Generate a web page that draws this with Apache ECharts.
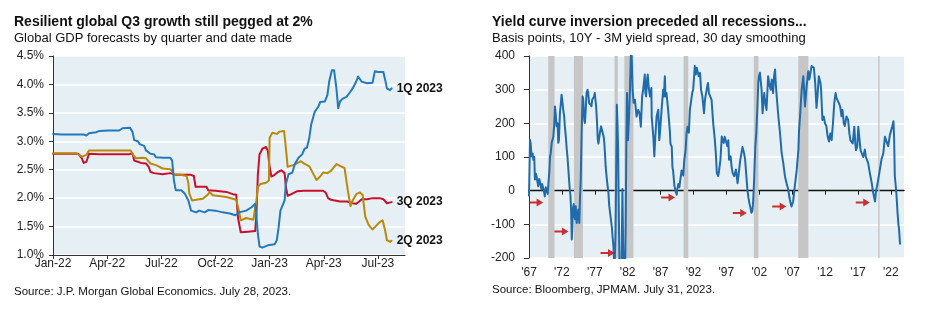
<!DOCTYPE html>
<html><head><meta charset="utf-8">
<script src="https://cdn.jsdelivr.net/npm/echarts/dist/echarts.min.js"></script>
<style>html,body{margin:0;padding:0;background:#fff}#c{width:928px;height:321px}</style>
</head><body><div id="c"></div>
<script>
// ---------- Left chart: Global GDP forecasts (x = months since Jan-22) ----------
const gdpTickLabels = ['Jan-22','Apr-22','Jul-22','Oct-22','Jan-23','Apr-23','Jul-23'];
const gdpSeriesNames = ['1Q 2023','3Q 2023','2Q 2023'];

const q1Months = [0,0.5,1.7,1.85,2.0,2.4,2.55,3.1,3.67,3.85,4.26,4.4,4.5,4.7,4.8,5.05,5.15,5.4,5.6,5.7,6.1,6.5,6.6,6.7,6.8,7.1,7.3,7.5,7.65,7.93,8.1,8.4,8.6,9.0,9.4,9.8,10.1,10.3,10.7,11.0,11.2,11.26,11.35,11.44,11.6,11.9,12.28,12.4,12.5,12.6,12.83,12.9,13.05,13.26,13.4,13.6,13.8,13.94,14.07,14.2,14.3,14.5,14.7,14.8,15.06,15.2,15.3,15.45,15.57,15.7,15.8,15.9,16.05,16.26,16.4,16.6,16.8,16.9,17.1,17.4,17.7,17.83,18.0,18.3,18.4,18.5,18.67,18.76];
const q1Values = [3.13,3.12,3.12,3.10,3.14,3.16,3.18,3.19,3.19,3.23,3.24,3.17,3.02,3.0,2.95,2.92,2.84,2.78,2.77,2.72,2.71,2.71,2.66,2.31,2.14,2.14,2.08,1.96,1.78,1.75,1.78,1.75,1.79,1.78,1.75,1.73,1.70,1.75,1.78,1.84,1.90,1.72,1.37,1.15,1.13,1.17,1.19,1.26,1.49,1.78,1.96,2.25,2.42,2.45,2.6,2.71,2.77,2.87,2.89,3.06,3.29,3.52,3.61,3.69,3.70,3.81,4.05,4.25,4.25,3.93,3.58,3.70,3.75,3.78,3.84,3.93,4.05,4.14,4.05,4.02,4.03,4.23,4.22,4.22,4.08,3.93,3.90,3.93];

const q3Months = [0,1.4,1.6,1.7,1.85,2.0,2.55,3.48,4.2,4.4,4.5,4.7,4.87,5.15,5.3,5.4,5.6,6.07,6.5,6.8,7.65,7.8,7.9,8.1,8.5,8.6,9.0,9.6,9.96,10.15,10.25,10.4,10.8,11.2,11.27,11.35,11.44,11.6,11.8,11.9,12.0,12.1,12.28,12.46,12.65,12.83,12.9,13.0,13.2,13.5,13.9,14.96,15.1,15.24,15.4,15.9,16.3,16.6,16.8,16.96,17.1,17.4,17.7,18.1,18.3,18.5,18.76];
const q3Values = [2.78,2.78,2.70,2.62,2.64,2.78,2.77,2.77,2.77,2.79,2.66,2.64,2.62,2.61,2.55,2.46,2.44,2.42,2.44,2.41,2.41,2.39,2.20,2.20,2.20,2.14,2.13,2.11,2.07,2.06,1.65,1.40,1.41,1.42,1.72,2.42,2.77,2.87,2.90,2.83,2.55,2.38,2.41,2.46,2.49,2.44,2.20,2.04,2.07,2.12,2.13,2.13,2.10,2.00,1.97,1.94,1.94,1.91,1.90,1.94,1.98,1.98,2.00,2.00,1.98,1.91,1.93];

const q2Months = [0,1.3,1.6,1.7,1.85,2.0,4.3,4.44,4.6,4.96,5.15,5.4,5.7,5.9,6.07,6.5,6.7,7.1,7.4,7.5,7.55,7.7,7.93,8.3,8.6,8.67,8.85,9.6,9.96,10.15,10.3,10.4,10.7,11.1,11.2,11.27,11.35,11.5,11.8,11.96,12.0,12.15,12.4,12.55,12.8,12.9,13.0,13.1,13.3,13.5,13.74,13.9,14.07,14.2,14.4,14.6,14.8,14.96,15.2,15.4,15.7,15.96,16.15,16.33,16.48,16.6,16.8,17.0,17.15,17.3,17.5,17.7,17.83,18.1,18.26,18.4,18.5,18.67,18.76];
const q2Values = [2.79,2.79,2.73,2.70,2.76,2.84,2.84,2.76,2.70,2.71,2.70,2.61,2.58,2.55,2.52,2.51,2.42,2.41,2.39,2.26,2.08,1.96,1.97,1.99,2.07,2.11,2.05,2.02,1.99,1.97,1.78,1.61,1.65,1.62,1.63,1.96,2.20,2.25,2.27,2.31,3.06,3.15,3.13,3.17,3.18,2.89,2.55,2.52,2.58,2.61,2.65,2.61,2.58,2.56,2.44,2.32,2.38,2.45,2.44,2.48,2.60,2.56,2.53,2.14,1.86,1.96,2.07,2.10,2.06,1.67,1.52,1.45,1.49,1.58,1.61,1.43,1.26,1.23,1.25];

// ---------- Right chart: 10Y - 3M spread (bp) ----------
const spreadTickLabels = ["'67","'72","'77","'82","'87","'92","'97","'02","'07","'12","'17","'22"];
const spreadYears = [1967.0,1967.15,1967.25,1967.4,1967.55,1967.65,1967.8,1967.9,1968.05,1968.15,1968.25,1968.4,1968.55,1968.65,1968.9,1969.0,1969.15,1969.3,1969.4,1969.55,1969.7,1969.85,1969.95,1970.1,1970.2,1970.3,1970.45,1970.7,1970.85,1970.95,1971.05,1971.2,1971.35,1971.45,1971.55,1971.7,1971.85,1971.95,1972.05,1972.2,1972.35,1972.45,1972.6,1972.7,1972.85,1972.95,1973.1,1973.2,1973.3,1973.4,1973.5,1973.6,1973.65,1973.8,1973.9,1974.0,1974.1,1974.25,1974.4,1974.5,1974.65,1974.75,1974.85,1975.0,1975.15,1975.25,1975.4,1975.5,1975.65,1975.75,1975.9,1976.0,1976.15,1976.25,1976.5,1976.6,1976.75,1976.9,1977.0,1977.1,1977.2,1977.35,1977.45,1977.55,1977.7,1977.85,1977.95,1978.1,1978.2,1978.35,1978.45,1978.55,1978.65,1978.8,1978.95,1979.05,1979.2,1979.35,1979.45,1979.6,1979.7,1979.85,1979.95,1980.05,1980.15,1980.25,1980.35,1980.45,1980.55,1980.65,1980.75,1980.9,1981.05,1981.15,1981.2,1981.3,1981.45,1981.6,1981.7,1981.8,1981.9,1982.05,1982.2,1982.35,1982.5,1982.6,1982.75,1982.9,1983.1,1983.25,1983.35,1983.6,1983.8,1984.0,1984.2,1984.35,1984.6,1984.7,1984.8,1984.95,1985.05,1985.2,1985.4,1985.6,1985.65,1985.9,1986.05,1986.2,1986.4,1986.65,1986.8,1986.9,1987.15,1987.4,1987.5,1987.65,1987.75,1987.9,1988.15,1988.4,1988.5,1988.7,1988.8,1988.9,1989.1,1989.25,1989.45,1989.55,1989.7,1989.85,1989.95,1990.2,1990.45,1990.6,1990.8,1990.95,1991.1,1991.3,1991.45,1991.6,1991.8,1991.95,1992.1,1992.2,1992.35,1992.5,1992.65,1992.8,1993.0,1993.15,1993.35,1993.6,1993.75,1994.0,1994.2,1994.35,1994.5,1994.75,1995.0,1995.25,1995.4,1995.55,1995.75,1995.9,1996.1,1996.3,1996.45,1996.6,1996.75,1996.9,1997.15,1997.3,1997.4,1997.65,1997.8,1997.95,1998.2,1998.45,1998.6,1998.7,1998.95,1999.1,1999.3,1999.45,1999.55,1999.7,1999.85,2000.05,2000.2,2000.35,2000.5,2000.65,2000.8,2000.95,2001.05,2001.2,2001.4,2001.55,2001.7,2001.85,2001.95,2002.1,2002.25,2002.35,2002.5,2002.6,2002.75,2002.85,2003.1,2003.2,2003.35,2003.5,2003.6,2003.75,2003.9,2004.1,2004.25,2004.4,2004.5,2004.65,2004.9,2005.15,2005.4,2005.65,2005.9,2006.15,2006.4,2006.55,2006.65,2006.9,2007.05,2007.15,2007.4,2007.7,2007.95,2008.05,2008.2,2008.45,2008.7,2008.95,2009.2,2009.45,2009.6,2009.7,2009.95,2010.05,2010.3,2010.5,2010.7,2010.85,2011.05,2011.3,2011.4,2011.6,2011.8,2012.0,2012.2,2012.4,2012.6,2012.8,2013.0,2013.2,2013.4,2013.6,2013.75,2013.9,2014.1,2014.3,2014.5,2014.65,2014.85,2015.0,2015.25,2015.5,2015.7,2015.85,2016.05,2016.2,2016.45,2016.6,2016.7,2016.9,2017.05,2017.2,2017.4,2017.55,2017.8,2018.05,2018.2,2018.4,2018.55,2018.8,2019.1,2019.3,2019.6,2019.75,2019.9,2020.1,2020.35,2020.6,2020.85,2021.1,2021.35,2021.6,2021.85,2022.0,2022.2,2022.4,2022.5,2022.6,2022.85,2023.0,2023.15,2023.25,2023.4];
const spreadValues = [-17,151,140,102,110,92,100,33,50,43,30,13,35,28,3,20,23,-5,-17,10,13,-10,20,60,102,110,142,161,200,250,230,191,200,142,150,231,260,285,270,241,220,191,160,132,100,72,30,3,-15,-56,-145,-100,-56,-40,-76,-85,-46,-96,-70,-56,-96,-20,23,172,280,270,210,201,250,290,300,290,260,261,251,270,265,280,290,270,251,200,152,140,161,180,191,195,191,160,142,110,72,40,13,0,-46,-70,-86,-110,-136,-170,-230,-200,-126,50,255,200,120,-60,-230,-300,-250,-80,5,-150,-300,-250,-100,150,290,150,220,300,420,400,300,261,270,240,220,240,230,190,280,300,345,290,280,330,345,305,280,305,220,160,102,160,221,240,150,170,240,300,280,340,280,290,240,180,140,130,70,60,15,0,-12,5,20,10,25,60,45,90,120,170,190,172,240,260,290,300,340,370,345,365,370,340,350,300,280,230,270,300,320,290,290,270,200,150,110,53,43,60,92,161,150,142,160,156,132,150,92,102,70,53,43,63,40,22,63,90,112,130,122,110,92,40,3,-20,-37,-50,-66,-60,-40,22,132,172,240,320,340,350,320,300,230,250,290,270,240,280,340,320,310,300,330,290,340,360,320,280,221,172,112,82,43,22,3,-15,-27,-47,-45,-32,13,63,122,180,221,300,340,250,310,355,330,340,370,375,365,320,246,280,340,320,300,210,220,200,192,160,146,170,150,200,260,290,275,280,260,250,221,240,200,192,220,211,170,150,152,140,190,140,120,132,190,160,120,122,100,122,100,90,82,53,22,-5,-32,0,13,35,65,95,110,160,161,132,165,161,190,206,155,45,-10,-60,-100,-115,-160];
const recessionStarts = [1969.92,1973.83,1980.0,1981.5,1990.5,2001.17,2007.92,2020.08];
const recessionEnds   = [1970.88,1975.2,1980.5,1982.88,1991.2,2001.88,2009.46,2020.3];
const arrowYears  = [1969.15,1973.0,1980.0,1989.2,2000.1,2006.1,2018.8];
const arrowValues = [-35,-121,-185,-20,-66,-47,-35];

const BASE_YEAR = 1967;
const FONT = 'Liberation Sans, Arial, sans-serif';
const SPREAD_MIN = -200, SPREAD_MAX = 400, SPREAD_STEP = 100;

function zip(xs, ys, off) { return xs.map((x, i) => [x - (off || 0), ys[i]]); }

const gdpTicks = gdpTickLabels.map((_, i) => i * 3);
const spreadTicks = spreadTickLabels.map((_, i) => i * 5);
// white gridlines on the right chart everywhere except at 0 (the black zero line lives there)
const spreadGridValues = [];
for (let v = SPREAD_MIN; v <= SPREAD_MAX; v += SPREAD_STEP) if (v !== 0) spreadGridValues.push(v);

// right plot area geometry; an overlay grid ends exactly at the zero line so its x axis sits on 0
const R_TOP = 56, R_BOTTOM = 63, H = 321;
const plotH = H - R_TOP - R_BOTTOM;
const zeroFromBottom = R_BOTTOM + plotH * (0 - SPREAD_MIN) / (SPREAD_MAX - SPREAD_MIN);

const chart = echarts.init(document.getElementById('c'));

function gdpLine(name, xs, ys, color) {
  return {
    type: 'line', name, xAxisIndex: 0, yAxisIndex: 0,
    data: zip(xs, ys), showSymbol: false, symbol: 'none',
    lineStyle: {color, width: 2, cap: 'round', join: 'round'},
    endLabel: {show: true, formatter: name, color: '#111', fontSize: 12, fontWeight: 'bold', fontFamily: FONT, distance: 5},
    z: 3
  };
}

const option = {
  animation: false,
  textStyle: {fontFamily: FONT},
  title: [
    {text: 'Resilient global Q3 growth still pegged at 2%', left: 14, top: 15, padding: 0,
     textStyle: {fontSize: 14, fontWeight: 'bold', color: '#111', fontFamily: FONT}},
    {text: 'Global GDP forecasts by quarter and date made', left: 14, top: 32, padding: 0,
     textStyle: {fontSize: 13, fontWeight: 'normal', color: '#111', fontFamily: FONT}},
    {text: 'Source: J.P. Morgan Global Economics. July 28, 2023.', left: 14, top: 286, padding: 0,
     textStyle: {fontSize: 11.5, fontWeight: 'normal', color: '#111', fontFamily: FONT}},
    {text: 'Yield curve inversion preceded all recessions...', left: 492, top: 15, padding: 0,
     textStyle: {fontSize: 14, fontWeight: 'bold', color: '#111', fontFamily: FONT}},
    {text: 'Basis points, 10Y - 3M yield spread, 30 day smoothing', left: 492, top: 32, padding: 0,
     textStyle: {fontSize: 13, fontWeight: 'normal', color: '#111', fontFamily: FONT}},
    {text: 'Source: Bloomberg, JPMAM. July 31, 2023.', left: 492, top: 284, padding: 0,
     textStyle: {fontSize: 11.5, fontWeight: 'normal', color: '#111', fontFamily: FONT}}
  ],
  grid: [
    {left: 53, right: 523, top: 56, bottom: 66, show: true, backgroundColor: '#e6eff3', borderWidth: 0},
    {left: 529, right: 24, top: R_TOP, bottom: R_BOTTOM, show: true, backgroundColor: '#e6eff3', borderWidth: 0},
    {left: 529, right: 24, top: R_TOP, bottom: zeroFromBottom, show: false}
  ],
  xAxis: [
    {gridIndex: 0, type: 'value', min: 0, max: 19.5, interval: 3,
     axisLine: {show: true, onZero: false, lineStyle: {color: '#333', width: 1}},
     axisTick: {show: true, length: 4, customValues: gdpTicks, lineStyle: {color: '#333', width: 1}},
     axisLabel: {customValues: gdpTicks, formatter: v => gdpTickLabels[Math.round(v / 3)] || '', color: '#222', fontSize: 12, margin: 3, fontFamily: FONT},
     splitLine: {show: false}},
    {gridIndex: 1, type: 'value', min: 0, max: 57, interval: 5,
     axisLine: {show: false, onZero: false},
     axisTick: {show: false},
     axisLabel: {customValues: spreadTicks, formatter: v => spreadTickLabels[Math.round(v / 5)] || '', color: '#222', fontSize: 12, margin: 9, fontFamily: FONT},
     splitLine: {show: false}},
    {gridIndex: 2, type: 'value', position: 'bottom', min: 0, max: 57,
     axisLine: {show: true, onZero: false, lineStyle: {color: '#111', width: 1.3}},
     axisTick: {show: true, length: 4, customValues: spreadTicks, lineStyle: {color: '#111', width: 1}},
     axisLabel: {show: false},
     splitLine: {show: false}}
  ],
  yAxis: [
    {gridIndex: 0, type: 'value', min: 1, max: 4.5, interval: 0.5,
     axisLine: {show: true, onZero: false, lineStyle: {color: '#333', width: 1}},
     axisTick: {show: true, length: 4, lineStyle: {color: '#333', width: 1}},
     axisLabel: {formatter: v => v.toFixed(1) + '%', color: '#222', fontSize: 12, margin: 9, fontFamily: FONT},
     splitLine: {show: true, lineStyle: {color: '#ffffff', width: 1.5}}},
    {gridIndex: 1, type: 'value', min: SPREAD_MIN, max: SPREAD_MAX, interval: SPREAD_STEP,
     axisLine: {show: true, onZero: false, lineStyle: {color: '#333', width: 1}},
     axisTick: {show: true, length: 5, customValues: spreadGridValues, lineStyle: {color: '#333', width: 1}},
     axisLabel: {color: '#222', fontSize: 12, margin: 14, fontFamily: FONT},
     splitLine: {show: true, lineStyle: {color: '#ffffff', width: 1.5}}},
    {gridIndex: 2, type: 'value', min: 0, max: SPREAD_MAX, show: false}
  ],
  series: [
    gdpLine(gdpSeriesNames[1], q3Months, q3Values, '#c8102e'),
    gdpLine(gdpSeriesNames[2], q2Months, q2Values, '#b8890c'),
    gdpLine(gdpSeriesNames[0], q1Months, q1Values, '#2279bd'),
    {
      type: 'line', name: 'spread', xAxisIndex: 1, yAxisIndex: 1,
      data: zip(spreadYears, spreadValues, BASE_YEAR), showSymbol: false, symbol: 'none', clip: true,
      lineStyle: {color: '#1f6bab', width: 2, join: 'round'},
      markArea: {
        silent: true,
        itemStyle: {color: '#c6c6c6'},
        data: recessionStarts.map((s, i) => [{xAxis: s - BASE_YEAR}, {xAxis: recessionEnds[i] - BASE_YEAR}])
      },
      z: 3
    },
    {
      type: 'scatter', name: 'arrows', xAxisIndex: 1, yAxisIndex: 1,
      data: zip(arrowYears, arrowValues, BASE_YEAR),
      symbol: 'path://M0,3L8,3L8,0L15,4L8,8L8,5L0,5Z',
      symbolSize: [14, 8], symbolOffset: [-7, 0],
      itemStyle: {color: '#c00000'}, silent: true, z: 4
    }
  ]
};
chart.setOption(option);
</script>
</body></html>
